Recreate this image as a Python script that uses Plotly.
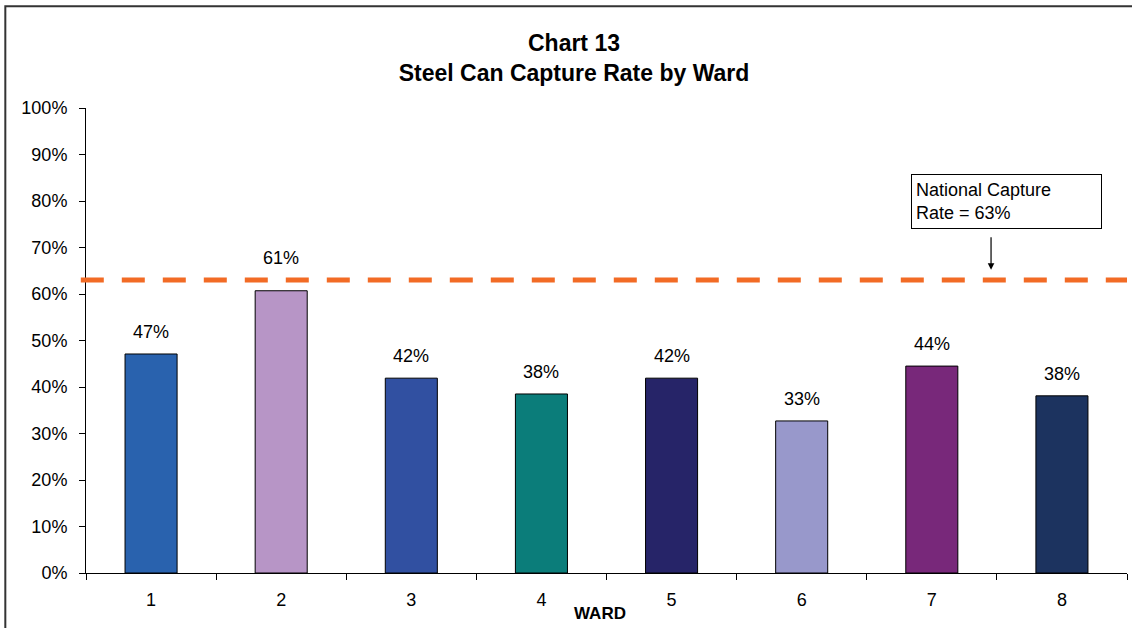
import plotly.graph_objects as go

# Ward capture rates (fractions)
wards = ["1", "2", "3", "4", "5", "6", "7", "8"]
capture_rate = [0.471, 0.607, 0.419, 0.385, 0.419, 0.327, 0.445, 0.381]
bar_colors = ["#2962AE", "#B795C6", "#3150A1", "#0B7D7A",
              "#262468", "#9898CB", "#78287A", "#1C335F"]
national_rate = 0.63
y_ticks = [i / 10 for i in range(11)]
y_tick_labels = [f"{i * 10}%" for i in range(11)]

FONT = "Liberation Sans, Arial, sans-serif"

fig = go.Figure()
fig.add_trace(go.Bar(
    x=wards,
    y=capture_rate,
    width=0.4,
    marker=dict(color=bar_colors, line=dict(color="#000000", width=1)),
    hoverinfo="x+y",
))

# value labels above each bar (category axis positions by index);
# a label that would sit on the reference line is lifted clear of it
for i, v in enumerate(capture_rate):
    shift = 33 if abs(v - national_rate) < 0.05 else 22
    fig.add_annotation(
        x=i, y=v, xref="x", yref="y",
        text=f"{round(v * 100)}%", showarrow=False,
        yshift=shift, yanchor="middle",
        font=dict(family=FONT, size=18, color="#000000"),
    )

# national capture rate reference line
fig.add_shape(
    type="line", xref="paper", yref="y",
    x0=-0.005, x1=1.0, y0=national_rate, y1=national_rate,
    line=dict(color="#F26B25", width=5, dash="23px,18px"),
)

# callout box
fig.add_annotation(
    x=0.8843, y=0.799, xref="paper", yref="paper",
    text="National Capture<br>Rate = 63%", showarrow=False,
    align="left", xanchor="center", yanchor="middle",
    width=181, height=45, borderpad=4,
    bordercolor="#000000", borderwidth=1, bgcolor="#FFFFFF",
    font=dict(family=FONT, size=18, color="#000000"),
)
# arrow from callout to line
fig.add_annotation(
    x=0.8694, y=0.652, xref="paper", yref="paper",
    text="", showarrow=True, ax=0, ay=-34, axref="pixel", ayref="pixel",
    arrowhead=2, arrowsize=1.1, arrowwidth=1.2, arrowcolor="#000000",
)

# axis title
fig.add_annotation(
    x=0.494, y=0, xref="paper", yref="paper",
    text="<b>WARD</b>", showarrow=False, yshift=-40, yanchor="middle",
    font=dict(family=FONT, size=17, color="#000000"),
)

# outer chart frame
fig.add_shape(
    type="rect", xref="paper", yref="paper",
    x0=-0.0775, x1=1.2, y0=1.219, y1=-0.3,
    line=dict(color="#333333", width=2), fillcolor="rgba(0,0,0,0)",
    layer="below",
)

fig.update_layout(
    width=1132, height=628,
    margin=dict(l=86, r=5, t=108, b=55),
    paper_bgcolor="#FFFFFF", plot_bgcolor="#FFFFFF",
    showlegend=False,
    bargap=0.6,
    title=dict(
        text="<b>Chart 13<br>Steel Can Capture Rate by Ward</b>",
        x=574 / 1132, xref="container", xanchor="center",
        y=1 - 51 / 628, yref="container", yanchor="middle",
        font=dict(family=FONT, size=23, color="#000000"),
    ),
    xaxis=dict(
        type="category", categoryarray=wards, range=[-0.5, 7.5],
        tickson="boundaries",
        ticks="outside", ticklen=6, tickcolor="#000000",
        showline=True, linecolor="#000000", linewidth=1,
        showgrid=False, zeroline=False, ticklabelstandoff=10,
        tickfont=dict(family=FONT, size=18, color="#000000"),
    ),
    yaxis=dict(
        range=[0, 1], tickvals=y_ticks, ticktext=y_tick_labels,
        ticks="outside", ticklen=6, tickcolor="#000000",
        showline=True, linecolor="#000000", linewidth=1,
        showgrid=False, zeroline=False, ticklabelstandoff=8,
        tickfont=dict(family=FONT, size=18, color="#000000"),
    ),
)

fig.write_html("out.html")
